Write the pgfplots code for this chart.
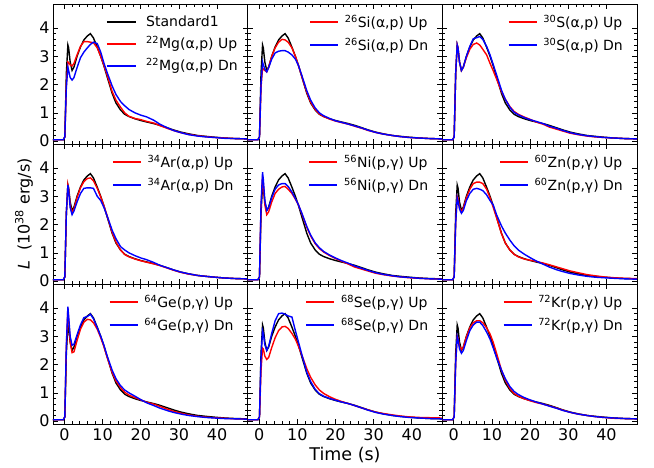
\documentclass[border=0pt]{standalone}
\usepackage{fontspec}
\setmainfont{DejaVu Sans}
\usepackage{pgfplots}
\usepackage{pgfplotstable}
\pgfplotsset{compat=1.18}
\usepgfplotslibrary{groupplots}

\pgfplotsset{
  mylegend/.style={
    legend style={draw=none, fill=none, at={(1,1)}, anchor=north east,
      xshift=-11pt, yshift=-8pt, font=\fontsize{14}{16}\selectfont,
      row sep=5pt, column sep=4pt, inner sep=1pt},
    legend cell align=left,
    legend image code/.code={\draw[##1, line width=1.4pt] (0pt,0pt) -- (28pt,0pt);},
  },
}

\pgfplotstableread{
t s
-3 0.05
-0.3 0.05
0.1 0.15
0.5 2.4
0.9 3.4
1.1 3.3
1.5 2.8
2.0 2.5
2.5 2.62
3.3 3.00
4.2 3.33
5.1 3.58
6.0 3.72
6.8 3.80
7.6 3.65
8.6 3.32
9.5 3.00
10.3 2.68
11.2 2.27
12.5 1.69
13.5 1.35
14.7 1.10
15.8 0.95
16.9 0.87
18.5 0.79
20 0.73
21.5 0.68
23.4 0.62
25 0.56
27 0.47
28.5 0.40
30.5 0.32
32.5 0.26
34.9 0.20
37 0.17
39.3 0.14
42 0.11
45 0.09
48 0.08
}\tabStd

\pgfplotstableread{
t u d
-3 0.05 0.05
-0.3 0.05 0.05
0.1 0.15 0.15
0.5 2.0 1.9
0.9 2.8 2.62
1.1 2.78 2.5
1.5 2.7 2.25
2.0 2.66 2.16
2.5 2.75 2.25
3.3 3.05 2.6
4.2 3.35 2.95
5.1 3.52 3.15
6.0 3.52 3.3
6.8 3.50 3.42
7.6 3.48 3.5
8.6 3.30 3.45
9.5 3.00 3.15
10.3 2.70 2.78
11.2 2.33 2.42
12.5 1.75 1.95
13.5 1.45 1.65
14.7 1.20 1.40
15.8 1.00 1.25
16.9 0.88 1.12
18.5 0.80 1.00
20 0.76 0.92
21.5 0.70 0.86
23.4 0.64 0.74
25 0.55 0.60
27 0.45 0.47
28.5 0.38 0.38
30.5 0.30 0.30
32.5 0.24 0.23
34.9 0.19 0.18
37 0.16 0.15
39.3 0.13 0.13
42 0.11 0.10
45 0.09 0.09
48 0.08 0.08
}\tabMg

\pgfplotstableread{
t u d
-3 0.05 0.05
-0.3 0.05 0.05
0.1 0.15 0.15
0.5 1.9 2.0
0.9 2.58 2.8
1.1 2.55 2.7
1.5 2.5 2.55
2.0 2.45 2.45
2.5 2.62 2.6
3.3 3.0 2.9
4.2 3.3 3.12
5.1 3.5 3.18
6.0 3.6 3.2
6.8 3.58 3.2
7.6 3.5 3.15
8.6 3.3 3.05
9.5 3.0 2.9
10.3 2.68 2.68
11.2 2.28 2.32
12.5 1.72 1.78
13.5 1.38 1.45
14.7 1.12 1.17
15.8 0.96 1.0
16.9 0.87 0.9
18.5 0.78 0.8
20 0.71 0.72
21.5 0.66 0.67
23.4 0.6 0.6
25 0.53 0.54
27 0.45 0.46
28.5 0.38 0.39
30.5 0.31 0.31
32.5 0.25 0.25
34.9 0.2 0.2
37 0.16 0.16
39.3 0.13 0.13
42 0.11 0.11
45 0.09 0.09
48 0.08 0.08
}\tabSi

\pgfplotstableread{
t u d
-3 0.05 0.05
-0.3 0.05 0.05
0.1 0.15 0.15
0.5 2.4 2.4
0.9 3.4 3.4
1.1 3.3 3.3
1.5 2.8 2.8
2.0 2.5 2.5
2.5 2.62 2.62
3.3 2.95 3.0
4.2 3.25 3.35
5.1 3.42 3.62
6.0 3.47 3.66
6.8 3.40 3.70
7.6 3.25 3.60
8.6 3.05 3.35
9.5 2.75 3.05
10.3 2.50 2.72
11.2 2.20 2.35
12.5 1.75 1.80
13.5 1.48 1.48
14.7 1.22 1.20
15.8 1.05 1.02
16.9 0.95 0.93
18.5 0.85 0.83
20 0.77 0.76
21.5 0.68 0.70
23.4 0.60 0.62
25 0.50 0.53
27 0.42 0.45
28.5 0.36 0.38
30.5 0.28 0.30
32.5 0.23 0.24
34.9 0.18 0.19
37 0.15 0.16
39.3 0.13 0.13
42 0.11 0.11
45 0.09 0.09
48 0.08 0.08
}\tabS

\pgfplotstableread{
t u d
-3 0.05 0.05
-0.3 0.05 0.05
0.1 0.15 0.15
0.5 2.4 2.4
0.9 3.4 3.4
1.1 3.25 3.2
1.5 2.7 2.6
2.0 2.42 2.35
2.5 2.55 2.48
3.3 2.95 2.8
4.2 3.3 3.1
5.1 3.52 3.28
6.0 3.63 3.3
6.8 3.65 3.3
7.6 3.55 3.28
8.6 3.28 3.0
9.5 2.98 2.85
10.3 2.68 2.62
11.2 2.3 2.3
12.5 1.72 1.8
13.5 1.38 1.5
14.7 1.1 1.22
15.8 0.94 1.1
16.9 0.86 1.0
18.5 0.78 0.9
20 0.72 0.82
21.5 0.67 0.76
23.4 0.61 0.66
25 0.55 0.56
27 0.46 0.47
28.5 0.39 0.40
30.5 0.31 0.32
32.5 0.25 0.26
34.9 0.2 0.2
37 0.17 0.17
39.3 0.14 0.14
42 0.11 0.11
45 0.09 0.09
48 0.08 0.08
}\tabAr

\pgfplotstableread{
t u d
-3 0.05 0.05
-0.3 0.05 0.05
0.1 0.15 0.15
0.5 2.6 2.7
0.9 3.7 3.85
1.1 3.45 3.6
1.5 2.7 2.85
2.0 2.35 2.5
2.5 2.45 2.6
3.3 2.8 2.95
4.2 3.1 3.25
5.1 3.25 3.4
6.0 3.33 3.45
6.8 3.35 3.45
7.6 3.25 3.35
8.6 3.1 3.15
9.5 2.9 2.92
10.3 2.7 2.7
11.2 2.38 2.4
12.5 1.9 1.93
13.5 1.6 1.63
14.7 1.32 1.35
15.8 1.15 1.18
16.9 1.03 1.05
18.5 0.9 0.92
20 0.8 0.82
21.5 0.71 0.73
23.4 0.6 0.63
25 0.5 0.54
27 0.42 0.45
28.5 0.36 0.38
30.5 0.28 0.3
32.5 0.23 0.24
34.9 0.18 0.19
37 0.15 0.15
39.3 0.12 0.13
42 0.1 0.1
45 0.08 0.08
48 0.07 0.07
}\tabNi

\pgfplotstableread{
t u d
-3 0.05 0.05
-0.3 0.05 0.05
0.1 0.15 0.15
0.5 2.1 2.05
0.9 3.0 2.95
1.1 2.95 2.85
1.5 2.6 2.55
2.0 2.45 2.4
2.5 2.58 2.5
3.3 2.95 2.85
4.2 3.25 3.1
5.1 3.45 3.25
6.0 3.5 3.28
6.8 3.5 3.25
7.6 3.45 3.2
8.6 3.25 3.05
9.5 2.95 2.85
10.3 2.62 2.7
11.2 2.25 2.35
12.5 1.68 1.95
13.5 1.35 1.7
14.7 1.1 1.45
15.8 0.95 1.25
16.9 0.86 1.1
18.5 0.78 0.95
20 0.74 0.83
21.5 0.7 0.72
23.4 0.64 0.6
25 0.58 0.5
27 0.5 0.4
28.5 0.44 0.34
30.5 0.36 0.27
32.5 0.3 0.22
34.9 0.23 0.17
37 0.19 0.14
39.3 0.15 0.12
42 0.12 0.1
45 0.1 0.08
48 0.09 0.07
}\tabZn

\pgfplotstableread{
t u d
-3 0.05 0.05
-0.3 0.05 0.05
0.1 0.15 0.15
0.5 2.6 2.7
0.9 4.0 4.05
1.1 3.6 3.7
1.5 2.8 3.0
2.0 2.42 2.68
2.5 2.45 2.72
3.3 2.85 3.05
4.2 3.25 3.4
5.1 3.5 3.66
6.0 3.6 3.7
6.8 3.58 3.78
7.6 3.48 3.62
8.6 3.25 3.3
9.5 2.95 3.0
10.3 2.65 2.7
11.2 2.25 2.3
12.5 1.72 1.8
13.5 1.42 1.5
14.7 1.18 1.25
15.8 1.02 1.1
16.9 0.92 1.0
18.5 0.83 0.88
20 0.75 0.76
21.5 0.67 0.65
23.4 0.6 0.55
25 0.52 0.46
27 0.42 0.37
28.5 0.35 0.31
30.5 0.28 0.25
32.5 0.22 0.2
34.9 0.17 0.16
37 0.14 0.13
39.3 0.12 0.11
42 0.1 0.09
45 0.08 0.08
48 0.07 0.07
}\tabGe

\pgfplotstableread{
t u d
-3 0.05 0.05
-0.3 0.05 0.05
0.1 0.15 0.15
0.5 1.8 2.2
0.9 2.58 3.2
1.1 2.55 3.1
1.5 2.3 2.7
2.0 2.18 2.5
2.5 2.25 2.65
3.3 2.6 3.1
4.2 2.95 3.55
5.1 3.2 3.8
6.0 3.33 3.82
6.8 3.35 3.78
7.6 3.28 3.72
8.6 3.1 3.68
9.5 2.9 3.2
10.3 2.65 2.8
11.2 2.33 2.35
12.5 1.85 1.72
13.5 1.55 1.4
14.7 1.28 1.12
15.8 1.1 0.97
16.9 0.98 0.88
18.5 0.86 0.8
20 0.77 0.74
21.5 0.7 0.68
23.4 0.62 0.62
25 0.55 0.55
27 0.46 0.46
28.5 0.4 0.39
30.5 0.32 0.31
32.5 0.27 0.25
34.9 0.22 0.2
37 0.18 0.16
39.3 0.15 0.13
42 0.13 0.11
45 0.12 0.09
48 0.11 0.08
}\tabSe

\pgfplotstableread{
t u d
-3 0.05 0.05
-0.3 0.05 0.05
0.1 0.15 0.15
0.5 2.1 2.05
0.9 3.0 3.0
1.1 2.95 2.9
1.5 2.65 2.55
2.0 2.53 2.4
2.5 2.62 2.5
3.3 2.98 2.85
4.2 3.3 3.2
5.1 3.48 3.4
6.0 3.55 3.5
6.8 3.55 3.5
7.6 3.48 3.38
8.6 3.3 3.15
9.5 3.08 2.9
10.3 2.8 2.6
11.2 2.4 2.25
12.5 1.8 1.8
13.5 1.45 1.5
14.7 1.15 1.22
15.8 0.98 1.05
16.9 0.88 0.94
18.5 0.79 0.83
20 0.72 0.75
21.5 0.66 0.68
23.4 0.6 0.6
25 0.54 0.53
27 0.46 0.45
28.5 0.39 0.38
30.5 0.31 0.31
32.5 0.25 0.25
34.9 0.2 0.2
37 0.16 0.16
39.3 0.13 0.13
42 0.1 0.11
45 0.09 0.09
48 0.08 0.08
}\tabKr

\newcommand{\iso}[2]{\textsuperscript{#1}#2}

\begin{document}
\begin{tikzpicture}
\begin{groupplot}[
  group style={group size=3 by 3, horizontal sep=0pt, vertical sep=0pt,
    xticklabels at=edge bottom, yticklabels at=edge left},
  scale only axis, width=194.7pt, height=140pt,
  xmin=-3, xmax=48, ymin=-0.1, ymax=4.85,
  xtick={0,10,20,30,40}, ytick={0,1,2,3,4},
  minor x tick num=4, minor y tick num=4,
  tick align=inside,
  major tick length=5pt, minor tick length=3pt,
  every tick/.style={black, line width=0.6pt},
  axis line style={line width=0.8pt},
  /pgf/number format/assume math mode=true,
  tick label style={font=\fontsize{16}{18}\selectfont},
  xticklabel style={yshift=-1pt},
  mylegend,
]
\nextgroupplot
\addplot[black, line width=1.4pt, forget plot] table[x=t,y=s]{\tabStd};
\addplot[red, line width=1.4pt, forget plot] table[x=t,y=u]{\tabMg};
\addplot[blue, line width=1.4pt, forget plot] table[x=t,y=d]{\tabMg};
\nextgroupplot
\addplot[black, line width=1.4pt, forget plot] table[x=t,y=s]{\tabStd};
\addplot[red, line width=1.4pt, forget plot] table[x=t,y=u]{\tabSi};
\addplot[blue, line width=1.4pt, forget plot] table[x=t,y=d]{\tabSi};
\addlegendimage{red}\addlegendentry{\iso{26}{Si(α,p) Up}}
\addlegendimage{blue}\addlegendentry{\iso{26}{Si(α,p) Dn}}
\nextgroupplot
\addplot[black, line width=1.4pt, forget plot] table[x=t,y=s]{\tabStd};
\addplot[red, line width=1.4pt, forget plot] table[x=t,y=u]{\tabS};
\addplot[blue, line width=1.4pt, forget plot] table[x=t,y=d]{\tabS};
\addlegendimage{red}\addlegendentry{\iso{30}{S(α,p) Up}}
\addlegendimage{blue}\addlegendentry{\iso{30}{S(α,p) Dn}}
\nextgroupplot
\addplot[black, line width=1.4pt, forget plot] table[x=t,y=s]{\tabStd};
\addplot[red, line width=1.4pt, forget plot] table[x=t,y=u]{\tabAr};
\addplot[blue, line width=1.4pt, forget plot] table[x=t,y=d]{\tabAr};
\addlegendimage{red}\addlegendentry{\iso{34}{Ar(α,p) Up}}
\addlegendimage{blue}\addlegendentry{\iso{34}{Ar(α,p) Dn}}
\nextgroupplot
\addplot[black, line width=1.4pt, forget plot] table[x=t,y=s]{\tabStd};
\addplot[red, line width=1.4pt, forget plot] table[x=t,y=u]{\tabNi};
\addplot[blue, line width=1.4pt, forget plot] table[x=t,y=d]{\tabNi};
\addlegendimage{red}\addlegendentry{\iso{56}{Ni(p,γ) Up}}
\addlegendimage{blue}\addlegendentry{\iso{56}{Ni(p,γ) Dn}}
\nextgroupplot
\addplot[black, line width=1.4pt, forget plot] table[x=t,y=s]{\tabStd};
\addplot[red, line width=1.4pt, forget plot] table[x=t,y=u]{\tabZn};
\addplot[blue, line width=1.4pt, forget plot] table[x=t,y=d]{\tabZn};
\addlegendimage{red}\addlegendentry{\iso{60}{Zn(p,γ) Up}}
\addlegendimage{blue}\addlegendentry{\iso{60}{Zn(p,γ) Dn}}
\nextgroupplot
\addplot[black, line width=1.4pt, forget plot] table[x=t,y=s]{\tabStd};
\addplot[red, line width=1.4pt, forget plot] table[x=t,y=u]{\tabGe};
\addplot[blue, line width=1.4pt, forget plot] table[x=t,y=d]{\tabGe};
\addlegendimage{red}\addlegendentry{\iso{64}{Ge(p,γ) Up}}
\addlegendimage{blue}\addlegendentry{\iso{64}{Ge(p,γ) Dn}}
\nextgroupplot
\addplot[black, line width=1.4pt, forget plot] table[x=t,y=s]{\tabStd};
\addplot[red, line width=1.4pt, forget plot] table[x=t,y=u]{\tabSe};
\addplot[blue, line width=1.4pt, forget plot] table[x=t,y=d]{\tabSe};
\addlegendimage{red}\addlegendentry{\iso{68}{Se(p,γ) Up}}
\addlegendimage{blue}\addlegendentry{\iso{68}{Se(p,γ) Dn}}
\nextgroupplot
\addplot[black, line width=1.4pt, forget plot] table[x=t,y=s]{\tabStd};
\addplot[red, line width=1.4pt, forget plot] table[x=t,y=u]{\tabKr};
\addplot[blue, line width=1.4pt, forget plot] table[x=t,y=d]{\tabKr};
\addlegendimage{red}\addlegendentry{\iso{72}{Kr(p,γ) Up}}
\addlegendimage{blue}\addlegendentry{\iso{72}{Kr(p,γ) Dn}}
\end{groupplot}
% legend of the first panel
\begin{scope}[shift={(group c1r1.north west)}, every node/.style={anchor=base west, inner sep=0pt, font=\fontsize{14}{16}\selectfont}]
\draw[black, line width=1.4pt] (54pt,-18pt) -- (83pt,-18pt);
\node at (93pt,-23pt) {Standard1};
\draw[red, line width=1.4pt] (54pt,-40pt) -- (83pt,-40pt);
\node at (93pt,-45pt) {\iso{22}{Mg(α,p) Up}};
\draw[blue, line width=1.4pt] (54pt,-62pt) -- (83pt,-62pt);
\node at (93pt,-67pt) {\iso{22}{Mg(α,p) Dn}};
\end{scope}
\node[rotate=90, font=\fontsize{16}{18}\selectfont] at ([xshift=-29pt]group c1r2.west) {\textit{L}\ \ (10\textsuperscript{38} erg/s)};
\node[font=\fontsize{17.5}{19}\selectfont] at ([yshift=-31pt]group c2r3.south) {Time (s)};
\path ([shift={(-53pt,-44pt)}]group c1r3.south west) rectangle ([shift={(17pt,4pt)}]group c3r1.north east);
\end{tikzpicture}
\end{document}
